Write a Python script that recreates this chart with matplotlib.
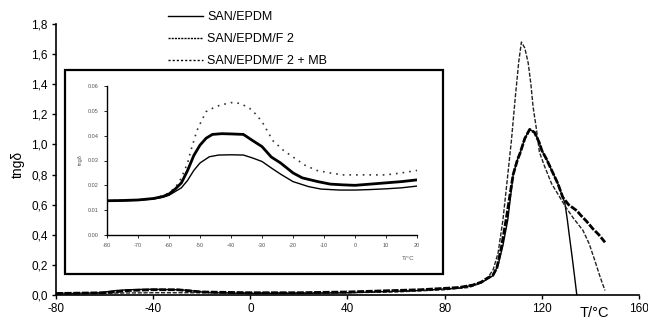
import matplotlib
matplotlib.use("Agg")
import matplotlib.pyplot as plt
from matplotlib.patches import Rectangle

plt.rcParams["font.family"] = ["Liberation Sans", "DejaVu Sans"]

# ---- main plot data (tan delta vs temperature) ----
T_EPDM = [-80, -70, -62, -60, -55, -50, -45, -40, -35, -30, -25, -20, -15, 0, 20, 40, 60, 70,
          80, 86, 90, 95, 98, 100, 102, 104, 106, 108.2, 110, 111, 113, 115, 117, 119, 120,
          122, 124, 126.6, 128.6, 129.5, 130.5, 131.2, 132.5, 133.5, 134.4]
TAN_EPDM = [0.01, 0.01, 0.015, 0.02, 0.03, 0.035, 0.037, 0.038, 0.036, 0.035, 0.03, 0.02, 0.015,
            0.01, 0.01, 0.015, 0.025, 0.03, 0.04, 0.046, 0.06, 0.08, 0.11, 0.13, 0.2, 0.33, 0.5,
            0.8, 0.9, 0.94, 1.04, 1.10, 1.08, 1.01, 0.96, 0.9, 0.83, 0.74, 0.65, 0.61, 0.5,
            0.41, 0.25, 0.12, 0.0]

T_F2 = [-80, -60, -40, -20, 0, 20, 40, 60, 80, 90, 95, 98, 100, 102, 104, 106, 107.5, 109,
        110.5, 111.6, 113, 114.4, 115.5, 116.4, 117.8, 119, 121, 124, 127, 130, 133, 136.9,
        139.5, 141.8, 144, 146]
TAN_F2 = [0.01, 0.012, 0.015, 0.015, 0.015, 0.015, 0.015, 0.02, 0.035, 0.05, 0.08, 0.12, 0.17,
          0.28, 0.5, 0.8, 1.03, 1.3, 1.55, 1.68, 1.64, 1.54, 1.4, 1.25, 1.10, 0.95, 0.86,
          0.74, 0.66, 0.58, 0.51, 0.43, 0.34, 0.23, 0.12, 0.03]

T_MB = [-80, -60, -50, -40, -30, -20, 0, 20, 40, 60, 70, 81, 86, 91.6, 95, 97.4, 99.8, 101.5,
        103.4, 105.5, 108.2, 110, 111, 113, 115, 117, 119, 120, 122, 124, 126.6, 128.6, 131,
        134.4, 136, 138.4, 141, 143.5, 146]
TAN_MB = [0.01, 0.015, 0.03, 0.035, 0.035, 0.02, 0.015, 0.015, 0.02, 0.03, 0.035, 0.045, 0.05,
          0.066, 0.085, 0.11, 0.13, 0.18, 0.32, 0.52, 0.8, 0.9, 0.94, 1.04, 1.10, 1.08, 1.01,
          0.96, 0.9, 0.83, 0.74, 0.65, 0.6, 0.56, 0.53, 0.49, 0.44, 0.40, 0.35]

# ---- inset data (low temperature region) ----
TI_EPDM = [-80, -75, -70, -65, -62, -60, -58, -56, -54, -52, -50, -47, -44, -40, -36, -33, -30,
           -27, -24, -20, -15, -11, -5, 0, 5, 10, 15, 20]
TANI_EPDM = [0.0138, 0.0138, 0.0140, 0.0145, 0.0152, 0.016, 0.0175, 0.019, 0.022, 0.026, 0.029,
             0.0315, 0.0322, 0.0323, 0.0322, 0.031, 0.0296, 0.027, 0.0245, 0.0215, 0.0195,
             0.0185, 0.0181, 0.0181, 0.0183, 0.0186, 0.019, 0.0197]

TI_F2 = [-80, -70, -65, -62, -60, -58, -56, -54, -53, -51, -49.5, -48, -46, -43.5, -40, -37, -34,
         -31.7, -29.7, -26.5, -23, -20, -16, -12.3, -8, -4, 0, 5, 10, 15, 20]
TANI_F2 = [0.0138, 0.0141, 0.0148, 0.0158, 0.017, 0.019, 0.023, 0.029, 0.0338, 0.042, 0.046,
           0.0497, 0.051, 0.0523, 0.0533, 0.053, 0.051, 0.0483, 0.045, 0.038, 0.034, 0.0314,
           0.028, 0.026, 0.025, 0.0242, 0.0242, 0.0242, 0.0242, 0.025, 0.026]

TI_MB = [-80, -75, -70, -65, -62, -60, -58, -56, -54, -52, -50, -48, -46, -43, -40, -36, -33,
         -30, -27, -24, -20, -17, -12, -8, -4, 0, 5, 10, 15, 20]
TANI_MB = [0.0138, 0.0139, 0.0141, 0.0147, 0.0155, 0.0165, 0.0185, 0.021, 0.026, 0.032, 0.0362,
           0.039, 0.0405, 0.0408, 0.0407, 0.0405, 0.038, 0.0356, 0.0314, 0.029, 0.025, 0.023,
           0.0215, 0.0205, 0.0202, 0.020, 0.0205, 0.021, 0.0215, 0.0222]

LABELS = ["SAN/EPDM", "SAN/EPDM/F 2", "SAN/EPDM/F 2 + MB"]

X_TICKS = [-80, -40, 0, 40, 80, 120, 160]
Y_TICKS = [0.0, 0.2, 0.4, 0.6, 0.8, 1.0, 1.2, 1.4, 1.6, 1.8]
Y_TICKLABELS = ["0,0", "0,2", "0,4", "0,6", "0,8", "1,0", "1,2", "1,4", "1,6", "1,8"]
XI_TICKS = [-80, -70, -60, -50, -40, -30, -20, -10, 0, 10, 20]
YI_TICKS = [0.00, 0.01, 0.02, 0.03, 0.04, 0.05, 0.06]
YI_TICKLABELS = ["0.00", "0.01", "0.02", "0.03", "0.04", "0.05", "0.06"]

fig = plt.figure(figsize=(6.48, 3.23), dpi=100)
ax = fig.add_axes([0.0864, 0.0867, 0.8997, 0.839])

ax.plot(T_EPDM, TAN_EPDM, color="black", lw=1.0)
ax.plot(T_F2, TAN_F2, color="#222222", lw=1.0, ls=(0, (3, 1.2)))
ax.plot(T_MB, TAN_MB, color="black", lw=2.0, ls=(0, (2.5, 0.6)))

ax.set_xlim(-80, 160)
ax.set_ylim(0, 1.8)
ax.set_xticks(X_TICKS)
ax.set_xticklabels([str(t) for t in X_TICKS])
ax.set_yticks(Y_TICKS)
ax.set_yticklabels(Y_TICKLABELS)
for s in ["top", "right"]:
    ax.spines[s].set_visible(False)
for s in ["left", "bottom"]:
    ax.spines[s].set_linewidth(1.2)
ax.tick_params(direction="out", length=3, width=1.0, labelsize=8.5, pad=3)

fig.text(0.028, 0.49, "tngδ", rotation=90, ha="center", va="center", fontsize=10)
fig.text(0.918, 0.03, "T/°C", ha="center", va="center", fontsize=10.5)

leg_handles = [
    plt.Line2D([], [], color="black", lw=1.0),
    plt.Line2D([], [], color="black", lw=1.0, ls=(0, (1.5, 0.8))),
    plt.Line2D([], [], color="black", lw=1.0, ls=(0, (1.5, 1.5))),
]
fig.legend(leg_handles, LABELS, loc="upper left", bbox_to_anchor=(168 / 648, 1 - 11 / 323),
           frameon=False, fontsize=9, handlelength=2.8, handletextpad=0.35,
           labelspacing=0.8, borderpad=0, borderaxespad=0)

# inset frame
frame = Rectangle((65 / 648, 1 - 274 / 323), (443 - 65) / 648, (274 - 70) / 323,
                  transform=fig.transFigure, facecolor="white", edgecolor="black",
                  lw=1.6, zorder=3)
fig.patches.append(frame)

axi = fig.add_axes([107 / 648, 1 - 235 / 323, 310 / 648, 149 / 323], zorder=4)
axi.patch.set_alpha(0)
axi.plot(TI_EPDM, TANI_EPDM, color="black", lw=1.0)
axi.plot(TI_F2, TANI_F2, color="#333333", lw=1.2, ls=(0, (1, 3)))
axi.plot(TI_MB, TANI_MB, color="black", lw=2.0)
axi.set_xlim(-80, 20)
axi.set_ylim(0, 0.06)
axi.set_xticks(XI_TICKS)
axi.set_xticklabels([str(t) for t in XI_TICKS])
axi.set_yticks(YI_TICKS)
axi.set_yticklabels(YI_TICKLABELS)
for s in ["top", "right"]:
    axi.spines[s].set_visible(False)
for s in ["left", "bottom"]:
    axi.spines[s].set_linewidth(1.0)
axi.tick_params(direction="out", length=2, width=0.6, labelsize=4, pad=4, labelcolor="#555555")
fig.text(80 / 648, 1 - 160 / 323, "tngδ", rotation=90, ha="center", va="center",
         fontsize=4, color="#555555")
fig.text(408 / 648, 1 - 258 / 323, "T/°C", ha="center", va="center", fontsize=4.5,
         color="#555555")

fig.savefig("out.png", dpi=100)
